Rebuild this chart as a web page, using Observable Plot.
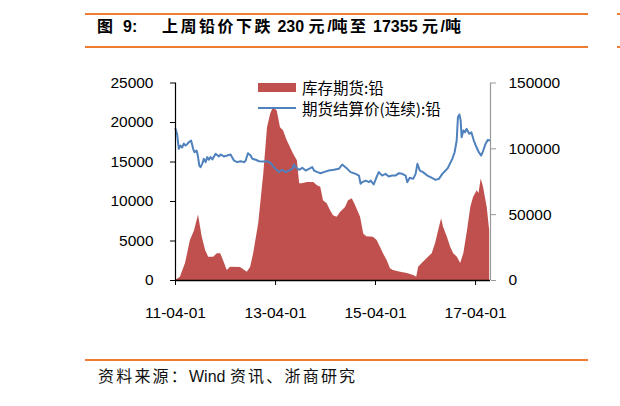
<!DOCTYPE html>
<html>
<head>
<meta charset="utf-8">
<script src="https://cdn.jsdelivr.net/npm/d3@7"></script>
<script src="https://cdn.jsdelivr.net/npm/@observablehq/plot@0.6"></script>
<style>
  html, body { margin: 0; padding: 0; background: #fff; }
  #page { position: relative; width: 620px; height: 406px; overflow: hidden; font-family: "Liberation Sans", "Noto Sans CJK SC", sans-serif; color: #000; }
  .abs { position: absolute; white-space: nowrap; }
  .rule { position: absolute; height: 2px; background: #EE7D31; }
  .title { font-weight: bold; font-size: 16px; line-height: 20px; top: 17px; }
  .lat { letter-spacing: 0; }
  .leg { font-size: 15.5px; line-height: 20px; font-family: "Noto Sans CJK SC", "Liberation Sans", sans-serif; }
  #chart { position: absolute; left: 0; top: 60px; }
</style>
</head>
<body>
<div id="page">
  <div class="rule" style="left:85px; top:12.5px; width:503px;"></div>
  <div class="rule" style="left:617px; top:12.5px; width:3px;"></div>
  <div class="abs title" style="left:97px;">图</div>
  <div class="abs title" style="left:123px;">9:</div>
  <div class="abs title" id="ttl" style="left:162px; letter-spacing:2.5px;">上周铅价下跌<span class="lat"> 230 </span>元<span class="lat">/</span>吨至<span class="lat"> 17355 </span>元<span class="lat">/</span>吨</div>
  <div class="rule" style="left:85px; top:45.5px; width:503px;"></div>
  <div class="rule" style="left:617px; top:45.5px; width:3px;"></div>

  <div id="chart"></div>

  <div class="abs" style="left:258px; top:83px; width:38px; height:9px; background:#C0504D;"></div>
  <div class="abs leg" style="left:302px; top:77px;">库存期货:铅</div>
  <div class="abs" style="left:258px; top:106.5px; width:38px; height:2px; background:#4F81BD;"></div>
  <div class="abs leg" style="left:302px; top:97.5px;">期货结算价(连续):铅</div>

  <div class="rule" style="left:85px; top:358.5px; width:503px;"></div>
  <div class="abs" style="left:98px; top:365px; font-size:16px; line-height:20px; letter-spacing:2.2px; font-family:'Noto Sans CJK SC', 'Liberation Sans', sans-serif; color:#111;">资料来源：<span style="letter-spacing:0; font-family:'Liberation Sans', sans-serif;">Wind </span>资讯、浙商研究</div>
</div>
<script>
// Inventory (库存期货:铅), tonnes
const invDates = [
  "2011-04-01","2011-05-07","2011-06-13","2011-07-19","2011-08-18","2011-09-16","2011-10-13","2011-11-07","2011-11-29",
  "2012-01-05","2012-02-01","2012-02-25","2012-03-17","2012-04-13","2012-05-07","2012-07-19","2012-09-07","2012-10-01",
  "2012-10-23","2012-11-29","2013-01-05","2013-02-01","2013-02-25","2013-03-17","2013-04-13","2013-05-07","2013-05-29",
  "2013-06-25","2013-07-19","2013-08-10","2013-09-07","2013-09-24","2013-10-13","2013-11-19","2014-01-05","2014-02-01",
  "2014-02-25","2014-03-17","2014-04-13","2014-05-07","2014-05-29","2014-06-25","2014-07-19","2014-08-25","2014-09-16",
  "2014-10-13","2014-11-07","2014-12-13","2015-01-05","2015-01-27","2015-03-17","2015-04-13","2015-05-07","2015-05-29",
  "2015-06-25","2015-07-19","2015-08-10","2015-10-01","2015-11-19","2016-01-05","2016-01-27","2016-02-10","2016-03-07",
  "2016-04-13","2016-05-19","2016-06-13","2016-07-05","2016-07-27","2016-08-10","2016-09-07","2016-10-01","2016-10-23",
  "2016-11-19","2016-12-13","2017-01-05","2017-02-01","2017-02-25","2017-03-17","2017-04-13","2017-04-26","2017-05-12",
  "2017-05-29","2017-06-25","2017-07-13"
];
const invValues = [
  0,420,2150,5050,6300,8300,5500,3800,2950,
  2950,3400,3400,2500,1260,1680,1640,1050,1680,
  3400,7200,13500,19350,21100,21900,21450,19350,18950,
  17700,16850,16000,15150,12250,12250,12400,12400,12000,
  11800,10100,9700,8850,8200,8000,8600,9250,10100,
  10350,9450,8000,5900,5550,5470,5050,4200,3400,
  2520,1500,1260,1050,880,630,420,1680,2150,
  2780,3400,4670,6300,7830,6730,5470,4200,3400,
  2950,2150,3400,6300,9250,10520,11360,11000,12850,
  11800,9250,6300
];
// Settlement price (期货结算价(连续):铅), yuan/tonne
const priceDates = [
  "2011-04-01","2011-04-13","2011-04-25","2011-05-07","2011-05-19","2011-06-01","2011-06-13","2011-06-25","2011-07-07",
  "2011-07-24","2011-08-08","2011-08-18","2011-09-02","2011-09-11","2011-09-22","2011-10-01","2011-10-13","2011-10-25",
  "2011-11-07","2011-11-19","2011-12-01","2011-12-13","2011-12-27","2012-01-19","2012-02-13","2012-02-25","2012-03-19",
  "2012-04-13","2012-05-07","2012-06-01","2012-06-25","2012-07-19","2012-08-13","2012-08-25","2012-09-11","2012-10-01",
  "2012-10-13","2012-11-07","2012-12-01","2013-01-07","2013-02-01","2013-02-25","2013-03-10","2013-04-01","2013-04-25",
  "2013-05-19","2013-06-13","2013-07-07","2013-08-01","2013-08-13","2013-08-25","2013-09-19","2013-10-13","2013-11-07",
  "2013-12-01","2013-12-25","2014-01-07","2014-02-01","2014-02-25","2014-03-19","2014-04-25","2014-06-01","2014-07-07",
  "2014-08-01","2014-08-18","2014-09-07","2014-10-01","2014-11-07","2014-12-01","2014-12-13","2014-12-25","2015-01-19",
  "2015-02-13","2015-02-25","2015-03-19","2015-04-13","2015-04-25","2015-05-19","2015-06-13","2015-07-07","2015-08-01",
  "2015-08-25","2015-09-19","2015-10-13","2015-11-07","2015-11-19","2015-12-07","2016-01-01","2016-01-19","2016-02-01",
  "2016-02-19","2016-03-13","2016-04-13","2016-05-07","2016-06-13","2016-07-07","2016-08-01","2016-08-25","2016-09-11",
  "2016-09-25","2016-10-13","2016-10-30","2016-11-14","2016-11-23","2016-12-04","2016-12-13","2016-12-20","2017-01-02",
  "2017-01-13","2017-01-26","2017-02-13","2017-03-01","2017-03-19","2017-04-08","2017-04-25","2017-05-12","2017-05-27",
  "2017-06-13","2017-06-30","2017-07-13"
];
const priceValues = [
  115200,111000,100000,102500,101000,104000,102500,103500,105000,
  106300,100000,97400,98700,94900,87300,86100,88600,92400,
  89900,93700,91700,93700,92000,96200,94200,95700,94200,
  94900,95700,91100,89900,90600,89900,91000,96700,94900,
  92400,91700,90600,90400,90500,89100,87300,84800,82300,
  84100,82300,83500,84800,88100,86100,84100,85600,83500,
  84800,86100,83500,82300,81500,82300,83500,84100,84800,
  88100,86600,84800,82300,81000,79700,73400,74700,75900,
  74700,75900,72900,79700,82300,79700,81000,79000,79700,
  79700,81500,81000,79700,74700,78000,77200,81000,88600,
  83500,82300,79700,78500,76500,77200,81000,83500,85600,
  88600,92400,97400,106300,124000,126100,121500,108800,113900,
  112600,115200,111400,112600,106300,101200,97400,94900,98700,
  103800,106800,106300
];
const leftTicks = [0, 5000, 10000, 15000, 20000, 25000];
const rightTicks = [0, 50000, 100000, 150000];
const xTickDates = ["2011-04-01", "2013-04-01", "2015-04-01", "2017-04-01"];
const xDomain = ["2011-04-01", "2017-07-19"];

const ratio = 150000 / 25000;
const inv = invDates.map((d, i) => ({date: new Date(d), value: invValues[i]}));
const price = priceDates.map((d, i) => ({date: new Date(d), value: priceValues[i]}));
const fmt = d3.utcFormat("%y-%m-%d");
const x0 = new Date(xDomain[0]), x1 = new Date(xDomain[1]);

const chart = Plot.plot({
  width: 620,
  height: 270,
  marginLeft: 175,
  marginRight: 130,
  marginTop: 22.5,
  marginBottom: 50,
  style: {fontFamily: "'Liberation Sans', Arial, sans-serif", fontSize: "15.5px", color: "#000", background: "transparent"},
  x: {type: "utc", domain: [x0, x1]},
  y: {domain: [0, 25000]},
  marks: [
    Plot.areaY(inv, {x: "date", y: "value", fill: "#C0504D"}),
    Plot.lineY(price, {x: "date", y: d => d.value / ratio, stroke: "#4F81BD", strokeWidth: 2}),
    Plot.ruleX([x0], {stroke: "#000", strokeWidth: 1.2}),
    Plot.ruleX([x1], {stroke: "#999", strokeWidth: 1.2}),
    Plot.ruleY([0], {stroke: "#000", strokeWidth: 1.5}),
    Plot.axisY({anchor: "left", ticks: leftTicks, tickSize: 5, tickPadding: 17, tickFormat: d => String(d), label: null, fontSize: 15.5}),
    Plot.axisY({anchor: "right", ticks: rightTicks.map(v => v / ratio), tickSize: 5, tickPadding: 13, stroke: "#999", fill: "#000",
      tickFormat: d => String(Math.round(d * ratio)), label: null, fontSize: 15.5}),
    Plot.axisX({ticks: xTickDates.map(d => new Date(d)), tickSize: 5, tickPadding: 21, tickFormat: fmt, label: null, fontSize: 15.5})
  ]
});
document.getElementById("chart").appendChild(chart);
</script>
</body>
</html>
